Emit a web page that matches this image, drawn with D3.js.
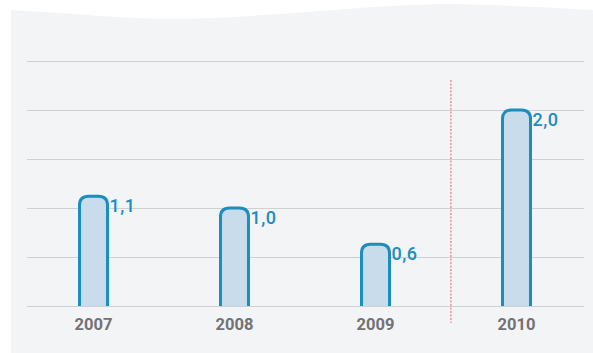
<!DOCTYPE html>
<html>
<head>
<meta charset="utf-8">
<script src="https://cdn.jsdelivr.net/npm/d3@7"></script>
<style>
  html, body { margin: 0; padding: 0; background: #fff; }
  svg { display: block; }
</style>
</head>
<body>
<svg id="chart"></svg>
<script>
const years = ['2007', '2008', '2009', '2010']
const values = [1.12, 1.0, 0.63, 2.0]
const gridTicks = [0, 0.5, 1, 1.5, 2, 2.5]

let width = 593
let height = 353
let baseY = 306

const svg = d3.select('#chart')
    .attr('width', width)
    .attr('height', height)

// grey panel with a wavy top edge
let wave = d3.line().curve(d3.curveBasis)
let waveTop = [[11, 10], [90, 15], [170, 21], [290, 14], [410, 3], [500, 5], [593, 10]]
svg.append('path')
    .attr('d', wave(waveTop) + `L593,${height}L11,${height}Z`)
    .attr('fill', '#f3f4f6')

let x = d3.scalePoint()
    .domain(years)
    .range([23, 587])
    .padding(0.5)

let y = d3.scaleLinear()
    .domain([0, 2.5])
    .range([baseY, 61])

// gridlines
svg.append('g')
    .attr('transform', 'translate(27,0)')
    .call(d3.axisLeft(y).tickValues(gridTicks).tickSize(-557).tickFormat(''))
    .call(g => g.select('.domain').remove())
    .selectAll('line')
      .attr('stroke', '#cfd0d2')
      .attr('stroke-width', 1.2)

// dashed separator between 2009 and 2010
let sepX = x('2009') + x.step() * 0.535
svg.append('line')
    .attr('x1', sepX).attr('x2', sepX)
    .attr('y1', 80).attr('y2', 323)
    .attr('stroke', '#f0625a')
    .attr('stroke-width', 1)
    .attr('stroke-dasharray', '2,1.5')

let barW = 28
let r = 9

function barPath(cx, v) {
  let l = cx - barW / 2, rr = cx + barW / 2, t = y(v)
  return `M${l},${baseY}V${t + r}Q${l},${t} ${l + r},${t}H${rr - r}Q${rr},${t} ${rr},${t + r}V${baseY}`
}

let data = years.map((d, i) => ({ year: d, value: values[i] }))

svg.append('g')
  .selectAll('path')
  .data(data)
  .enter()
  .append('path')
    .attr('d', d => barPath(x(d.year), d.value))
    .attr('fill', '#c9dcec')
    .attr('stroke', '#1b8dbf')
    .attr('stroke-width', 3)

// value labels
svg.append('g')
  .selectAll('text')
  .data(data)
  .enter()
  .append('text')
    .attr('x', d => x(d.year) + barW / 2 + 2)
    .attr('y', d => y(d.value) + 16)
    .attr('font-family', 'Roboto, sans-serif')
    .attr('font-size', 18)
    .attr('font-weight', 500)
    .attr('letter-spacing', 0.5)
    .attr('fill', '#1b8dbf')
    .text(d => d.value.toFixed(1).replace('.', ','))

// year labels
svg.append('g')
  .selectAll('text')
  .data(years)
  .enter()
  .append('text')
    .attr('x', d => x(d))
    .attr('y', 330)
    .attr('text-anchor', 'middle')
    .attr('font-family', 'Roboto, sans-serif')
    .attr('font-size', 16.5)
    .attr('font-weight', 700)
    .attr('fill', '#717274')
    .text(d => d)
</script>
</body>
</html>
